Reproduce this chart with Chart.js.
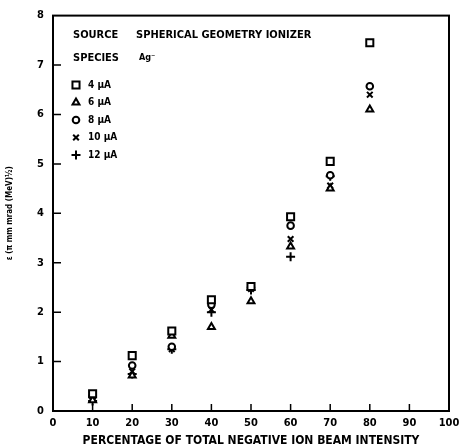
<!DOCTYPE html>
<html>
<head>
<meta charset="utf-8">
<script src="https://cdn.jsdelivr.net/npm/chart.js@4/dist/chart.umd.min.js"></script>
<style>
  html, body { margin: 0; padding: 0; background: #fff; }
  #wrap { width: 459px; height: 448px; }
</style>
</head>
<body>
<div id="wrap"><canvas id="emitChart" width="459" height="448"></canvas></div>
<script>
// Datos
const percent = [10, 20, 30, 40, 50, 60, 70, 80];
const ua4  = [0.35, 1.12, 1.62, 2.25, 2.52, 3.93, 5.05, 7.45];
const ua6  = [0.22, 0.72, 1.52, 1.70, 2.22, 3.33, 4.50, 6.10];
const ua8  = [0.30, 0.92, 1.30, 2.15, 2.50, 3.75, 4.77, 6.57];
const ua10 = [0.25, 0.80, 1.25, 2.05, 2.47, 3.48, 4.56, 6.40];
const ua12 = [0.20, 0.75, 1.25, 2.00, 2.45, 3.12, 4.75, null];
const seriesNames = ['4 \u00b5A', '6 \u00b5A', '8 \u00b5A', '10 \u00b5A', '12 \u00b5A'];
const xTicks = [0, 10, 20, 30, 40, 50, 60, 70, 80, 90, 100];
const yTicks = [0, 1, 2, 3, 4, 5, 6, 7, 8];

const FONT = '"Liberation Sans Narrow", "DejaVu Sans Condensed", "Liberation Sans", sans-serif';
const styles = ['rect', 'triangle', 'circle', 'crossRot', 'cross'];
const radii = [5, 4, 3.3, 4, 4.5];

function toPoints(values) {
    return percent.map((p, i) => ({ x: p, y: values[i] })).filter(pt => pt.y !== null);
}

const allSeries = [ua4, ua6, ua8, ua10, ua12];
const datasets = allSeries.map((vals, i) => ({
    label: seriesNames[i],
    data: toPoints(vals),
    pointStyle: styles[i],
    pointRadius: radii[i],
    pointBorderWidth: 2,
    pointBorderColor: '#000',
    pointBackgroundColor: '#fff',
    showLine: false
}));

// Marco, marcas interiores y leyenda
const framePlugin = {
    id: 'frame',
    afterDraw(chart) {
        const ctx = chart.ctx;
        const a = chart.chartArea;
        const xs = chart.scales.x, ys = chart.scales.y;
        ctx.save();
        ctx.strokeStyle = '#000';
        ctx.lineWidth = 2;
        ctx.strokeRect(a.left, a.top, a.right - a.left, a.bottom - a.top);
        ctx.lineWidth = 1.5;
        ctx.beginPath();
        xTicks.slice(1, -1).forEach(t => {
            const px = xs.getPixelForValue(t);
            ctx.moveTo(px, a.bottom);
            ctx.lineTo(px, a.bottom - 7);
        });
        yTicks.slice(1, -1).forEach(t => {
            const py = ys.getPixelForValue(t);
            ctx.moveTo(a.left, py);
            ctx.lineTo(a.left + 8, py);
        });
        ctx.stroke();

        // Texto del encabezado
        ctx.fillStyle = '#000';
        ctx.textBaseline = 'middle';
        ctx.font = 'bold 11px ' + FONT;
        ctx.fillText('SOURCE', 73, 35);
        ctx.fillText('SPHERICAL GEOMETRY IONIZER', 136, 35);
        ctx.fillText('SPECIES', 73, 58);
        ctx.font = 'bold 9px ' + FONT;
        ctx.fillText('Ag\u207b', 139, 58);

        // Leyenda
        ctx.font = 'bold 10px ' + FONT;
        chart.data.datasets.forEach((ds, i) => {
            const y = 85 + i * 17.5;
            ctx.lineWidth = 2;
            ctx.strokeStyle = '#000';
            ctx.fillStyle = '#fff';
            Chart.helpers.drawPoint(ctx, { pointStyle: ds.pointStyle, radius: ds.pointRadius, borderWidth: 2 }, 76, y);
            ctx.fillStyle = '#000';
            ctx.fillText(ds.label, 88, y);
        });
        ctx.restore();
    }
};

new Chart(document.getElementById('emitChart'), {
    type: 'scatter',
    data: { datasets: datasets },
    options: {
        responsive: false,
        animation: false,
        layout: { padding: { top: 13, right: 10, left: 0, bottom: 0 } },
        plugins: {
            legend: { display: false },
            tooltip: { enabled: false }
        },
        scales: {
            x: {
                type: 'linear',
                min: 0,
                max: 100,
                afterBuildTicks: s => { s.ticks = xTicks.map(v => ({ value: v })); },
                afterFit: s => { s.height = 37; s.paddingRight = 0; s.paddingLeft = 0; },
                grid: { display: false, drawTicks: false },
                border: { display: false },
                ticks: { color: '#000', padding: 6, font: { family: FONT, size: 11, weight: 'bold' } },
                title: {
                    display: true,
                    text: 'PERCENTAGE OF TOTAL NEGATIVE ION BEAM INTENSITY',
                    color: '#000',
                    padding: { top: 0, bottom: 0 },
                    font: { family: FONT, size: 12, weight: 'bold' }
                }
            },
            y: {
                type: 'linear',
                min: 0,
                max: 8,
                afterBuildTicks: s => { s.ticks = yTicks.map(v => ({ value: v })); },
                afterFit: s => { s.width = 53; },
                grid: { display: false, drawTicks: false },
                border: { display: false },
                ticks: { color: '#000', padding: 9, font: { family: FONT, size: 11, weight: 'bold' } },
                title: {
                    display: true,
                    text: '\u03b5 (\u03c0 mm mrad (MeV)\u00bd)',
                    color: '#000',
                    padding: { top: 5, bottom: 8 },
                    font: { family: FONT, size: 8, weight: 'bold' }
                }
            }
        }
    },
    plugins: [framePlugin]
});
</script>
</body>
</html>
